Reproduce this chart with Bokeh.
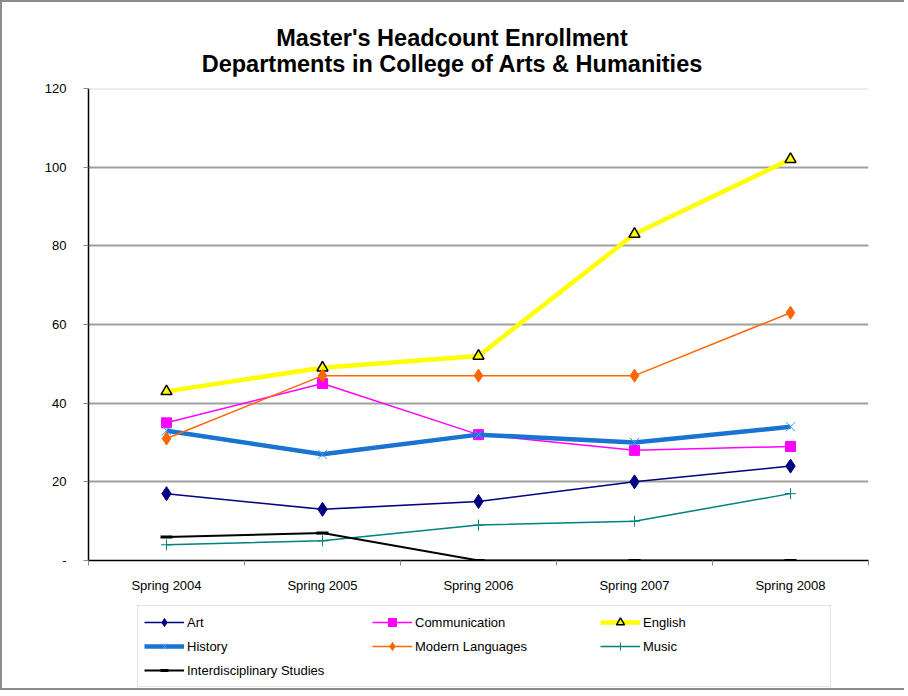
import html
from bokeh.plotting import figure
from bokeh.layouts import column
from bokeh.models import (FixedTicker, Legend, LegendItem, Span, ColumnDataSource, Div)
from bokeh.embed import file_html
from bokeh.resources import INLINE

years = ["Spring 2004", "Spring 2005", "Spring 2006", "Spring 2007", "Spring 2008"]
xpos = [1, 2, 3, 4, 5]
art = [17, 13, 15, 20, 24]
communication = [35, 45, 32, 28, 29]
english = [43, 49, 52, 83, 102]
history = [33, 27, 32, 30, 34]
modern_languages = [31, 47, 47, 47, 63]
music = [4, 5, 9, 10, 17]
interdisciplinary = [6, 7, 0, 0, 0]
y_ticks = [0, 20, 40, 60, 80, 100, 120]
title_line1 = "Master's Headcount Enrollment"
title_line2 = "Departments in College of Arts & Humanities"

FONT = "Liberation Sans"
BORDER = "2px solid #8c8c8c"

# title block
title_html = (
    '<div style="width:900px; padding-top:23px; line-height:26px; '
    'font-family:\'Liberation Sans\', Arial, sans-serif; '
    'font-size:23.5px; font-weight:bold; text-align:center; color:black; margin:0;">'
    + html.escape(title_line1, quote=False) + "<br>" + html.escape(title_line2, quote=False)
    + "</div>"
)
title_div = Div(text=title_html, width=904, height=76, margin=0,
                styles={"border-left": BORDER, "border-top": BORDER, "background": "white"})

p = figure(width=904, height=522, output_backend="svg", toolbar_location=None,
           x_range=(0.5, 5.5), y_range=(0, 120),
           min_border_left=86, min_border_right=38, min_border_top=12, min_border_bottom=38)
p.title.visible = False

p.outline_line_color = None
p.background_fill_color = "white"
p.border_fill_color = "white"
p.styles = {"border-left": BORDER}

# axes
p.xaxis.ticker = FixedTicker(ticks=xpos, minor_ticks=[0.5, 1.5, 2.5, 3.5, 4.5, 5.5])
p.xaxis.major_label_overrides = {x: y for x, y in zip(xpos, years)}
p.xaxis.major_tick_line_color = None
p.xaxis.major_tick_out = 0
p.xaxis.major_tick_in = 0
p.xaxis.minor_tick_out = 5
p.xaxis.minor_tick_in = 0
p.xaxis.minor_tick_line_color = "#888888"
p.xaxis.axis_line_color = "black"
p.xaxis.axis_line_width = 1.5
p.xaxis.major_label_standoff = 12
p.xaxis.major_label_text_font = FONT
p.xaxis.major_label_text_font_size = "13px"
p.xaxis.major_label_text_color = "black"

p.yaxis.ticker = FixedTicker(ticks=y_ticks, minor_ticks=[])
p.yaxis.major_label_overrides = {0: "-"}
p.yaxis.major_tick_out = 5
p.yaxis.major_tick_in = 0
p.yaxis.major_tick_line_color = "#888888"
p.yaxis.axis_line_color = "black"
p.yaxis.axis_line_width = 1.5
p.yaxis.major_label_standoff = 17
p.yaxis.major_label_text_font = FONT
p.yaxis.major_label_text_font_size = "13px"
p.yaxis.major_label_text_color = "black"

p.xgrid.visible = False
p.ygrid.ticker = FixedTicker(ticks=y_ticks[1:-1])
p.ygrid.grid_line_color = "#a0a0a0"
p.ygrid.grid_line_width = 2
p.add_layout(Span(location=y_ticks[-1], dimension="width", line_color="#dadada", line_width=2))

# legend figure (series drawn outside its visible range; only the legend shows)
q = figure(width=904, height=92, output_backend="svg", toolbar_location=None,
           x_range=(0.5, 5.5), y_range=(1000, 1001),
           x_axis_location=None, y_axis_location=None,
           min_border_left=0, min_border_right=0, min_border_top=0, min_border_bottom=0)
q.grid.visible = False
q.outline_line_color = None
q.title.visible = False
q.styles = {"border-left": BORDER, "border-bottom": BORDER}

items = []

def series(name, ys, color, lw, marker, msize, mfill, mline, mlw=1):
    src = ColumnDataSource(dict(x=xpos, y=ys))
    rs = []
    for fig in (p, q):
        l = fig.line("x", "y", source=src, line_color=color, line_width=lw)
        m = fig.scatter("x", "y", source=src, marker=marker, size=msize,
                        fill_color=mfill, line_color=mline, line_width=mlw)
        rs.append((l, m))
    items.append(LegendItem(label=name, renderers=list(rs[1])))

series("Art", art, "#000080", 1.5, "diamond", 14, "#000080", "#000080")
series("Communication", communication, "#ff00ff", 1.5, "square", 10, "#ff00ff", "#ff00ff")
series("English", english, "#ffff00", 4.5, "triangle", 11, "#ffff00", "black", 1.5)
series("History", history, "#1874d0", 4.5, "x", 13, None, "#3399ff", 1)
series("Modern Languages", modern_languages, "#ff6600", 1.5, "diamond", 13, "#ff6600", "#ff6600")
series("Music", music, "#008080", 1.5, "cross", 11, None, "#008080", 1)
series("Interdisciplinary Studies", interdisciplinary, "black", 2, "dash", 12, "black", "black", 3)

legend = Legend(items=items, orientation="horizontal", ncols=3, location=(49, 3),
                glyph_width=40, glyph_height=20, label_height=20, label_width=181,
                label_standoff=3, spacing=4, padding=6, margin=0,
                label_text_font=FONT, label_text_font_size="13px", label_text_color="black",
                border_line_color="#c8c8c8", border_line_width=1,
                background_fill_color="white", background_fill_alpha=1)
q.add_layout(legend)

layout = column(title_div, p, q, spacing=0)
open("out.html", "w").write(file_html(layout, INLINE))
